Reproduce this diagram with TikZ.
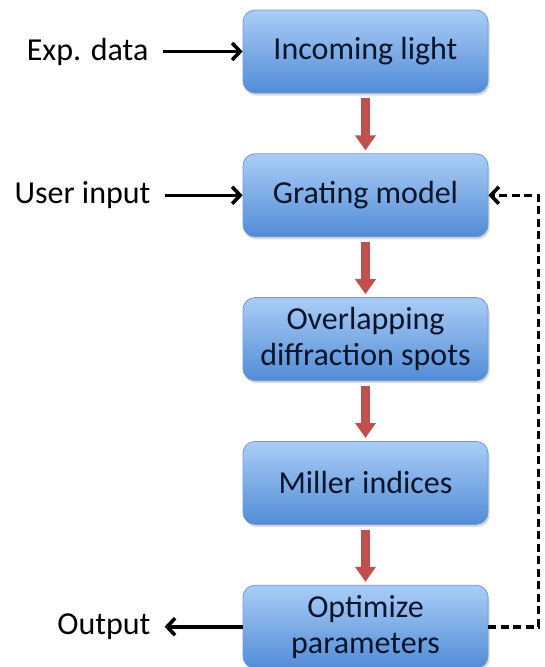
\documentclass[tikz,border=0pt]{standalone}
\usepackage{fontspec}
\setmainfont{Carlito}
\usetikzlibrary{arrows.meta,positioning,shadows}

\definecolor{boxtop}{RGB}{170,205,247}
\definecolor{boxbot}{RGB}{82,140,214}
\definecolor{boxline}{RGB}{110,155,215}
\definecolor{boxtext}{RGB}{8,20,42}
\definecolor{flowred}{RGB}{192,80,77}

\begin{document}
\begin{tikzpicture}[
    font=\fontsize{32}{36}\selectfont,
    stage/.style={draw=boxline, rounded corners=12pt, minimum width=245pt, minimum height=83pt, align=center, line width=0.8pt, top color=boxtop, bottom color=boxbot, text=boxtext, inner sep=2pt, drop shadow={opacity=0.3, shadow xshift=1.5pt, shadow yshift=-2.5pt}},
    io/.style={inner sep=14pt},
    flow/.style={-{Triangle[width=20pt,length=15pt]}, line width=9pt, draw=flowred, shorten <=5pt, shorten >=3pt},
    arrow/.style={-{Straight Barb[length=8pt,width=17pt]}, line width=3.6pt},
    feedback/.style={arrow, dash pattern=on 8pt off 4.5pt},
    node distance=60pt
]
\useasboundingbox (0,0) rectangle (544pt,-667pt);

\node[stage] (b1) at (365.5pt,-51.5pt) {Incoming light};
\node[stage, below=of b1] (b2) {Grating model};
\node[stage, below=of b2] (b3) {Overlapping\\diffraction spots};
\node[stage, below=of b3] (b4) {Miller indices};
\node[stage, below=of b4] (b5) {Optimize\\parameters};

\node[io, left=80pt of b1] (exp) {Exp. data};
\node[io, left=78pt of b2] (user) {User input};
\node[io, left=78pt of b5] (out) {Output};

\foreach \i/\j in {b1/b2, b2/b3, b3/b4, b4/b5}
  \draw[flow] (\i.south) -- (\j.north);

\draw[arrow] (exp) -- (b1);
\draw[arrow] (user) -- (b2);
\draw[arrow] (b5) -- (out);
\draw[feedback] (b5.east) -- ++(50pt,0) |- (b2.east);
\end{tikzpicture}
\end{document}
